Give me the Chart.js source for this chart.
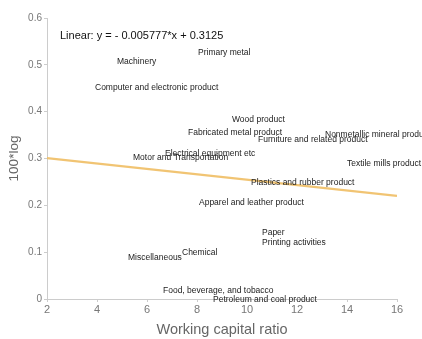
<!DOCTYPE html>
<html>
<head>
<meta charset="utf-8">
<script src="https://cdn.jsdelivr.net/npm/chart.js@4.4.1/dist/chart.umd.min.js"></script>
<style>
  html, body { margin: 0; padding: 0; background: #fff; }
  #wrap { position: relative; width: 422px; height: 339px; }
</style>
</head>
<body>
<div id="wrap"><canvas id="chart"></canvas></div>
<script>
// Industry points: working capital ratio vs 100*log
const industries = [
  "Primary metal", "Machinery", "Computer and electronic product",
  "Wood product", "Fabricated metal product", "Nonmetallic mineral product",
  "Furniture and related product", "Electrical equipment etc",
  "Motor and Transportation", "Textile mills product",
  "Plastics and rubber product", "Apparel and leather product",
  "Paper", "Printing activities", "Chemical", "Miscellaneous",
  "Food, beverage, and tobacco", "Petroleum and coal product"
];
const workingCapital = [
  8.04, 4.8, 3.92,
  9.4, 7.64, 13.12,
  10.44, 6.72,
  5.44, 14.0,
  10.16, 8.08,
  10.6, 10.6, 7.4, 5.24,
  6.64, 8.64
];
const logValues = [
  0.525, 0.506, 0.451,
  0.383, 0.355, 0.350,
  0.340, 0.310,
  0.302, 0.289,
  0.249, 0.205,
  0.141, 0.120, 0.098, 0.088,
  0.017, -0.002
];

// Linear fit shown in the corner
const fitSlope = -0.005777;
const fitIntercept = 0.3125;
const fitRange = [2, 16];

const xTicks = [2, 4, 6, 8, 10, 12, 14, 16];
const yTicks = [0, 0.1, 0.2, 0.3, 0.4, 0.5, 0.6];

const FONT = "'Liberation Sans', Arial, sans-serif";

const labelPlugin = {
  id: "pointLabels",
  afterDatasetsDraw(chart) {
    const ctx = chart.ctx;
    const meta = chart.getDatasetMeta(0);
    ctx.save();
    ctx.font = "8.5px " + FONT;
    ctx.fillStyle = "#222";
    ctx.textAlign = "left";
    ctx.textBaseline = "middle";
    meta.data.forEach((pt, i) => {
      ctx.fillText(industries[i], pt.x, pt.y);
    });
    // equation text
    ctx.font = "11px " + FONT;
    ctx.fillStyle = "#111";
    ctx.fillText("Linear: y = - 0.005777*x + 0.3125", 60, 36);
    ctx.restore();
  }
};

const ctx = document.getElementById("chart").getContext("2d");
new Chart(ctx, {
  type: "scatter",
  data: {
    datasets: [
      {
        label: "Industries",
        data: industries.map((_, i) => ({ x: workingCapital[i], y: logValues[i] })),
        pointRadius: 0,
        pointHoverRadius: 0,
        showLine: false
      },
      {
        label: "Linear",
        data: fitRange.map(x => ({ x: x, y: fitSlope * x + fitIntercept })),
        showLine: true,
        borderColor: "rgba(240, 190, 100, 0.9)",
        borderWidth: 2.2,
        pointRadius: 0,
        fill: false
      }
    ]
  },
  options: {
    responsive: true,
    maintainAspectRatio: false,
    animation: false,
    layout: { padding: { top: 18, right: 25, left: 0, bottom: 0 } },
    plugins: {
      legend: { display: false },
      tooltip: { enabled: false }
    },
    scales: {
      x: {
        type: "linear",
        min: 2,
        max: 16,
        afterBuildTicks: (s) => { s.ticks = xTicks.map(v => ({ value: v })); },
        afterFit: (s) => { s.height = 40; },
        ticks: {
          color: "#777",
          font: { size: 11, family: FONT },
          padding: 1
        },
        grid: { drawOnChartArea: false, color: "#ccc", tickLength: 3 },
        border: { color: "#ccc" },
        title: {
          display: true,
          text: "Working capital ratio",
          color: "#666",
          font: { size: 14.5, family: FONT },
          padding: { top: 0, bottom: 0 }
        }
      },
      y: {
        type: "linear",
        min: 0,
        max: 0.6,
        afterBuildTicks: (s) => { s.ticks = yTicks.map(v => ({ value: v })); },
        afterFit: (s) => { s.width = 47; },
        ticks: {
          color: "#777",
          font: { size: 10, family: FONT },
          padding: 2,
          callback: (v) => v === 0 ? "0" : v.toFixed(1)
        },
        grid: { drawOnChartArea: false, color: "#ccc", tickLength: 3 },
        border: { color: "#ccc" },
        title: {
          display: true,
          text: "100*log",
          color: "#666",
          font: { size: 13.5, family: FONT },
          padding: { top: 6, bottom: 0 }
        }
      }
    }
  },
  plugins: [labelPlugin]
});
</script>
</body>
</html>
